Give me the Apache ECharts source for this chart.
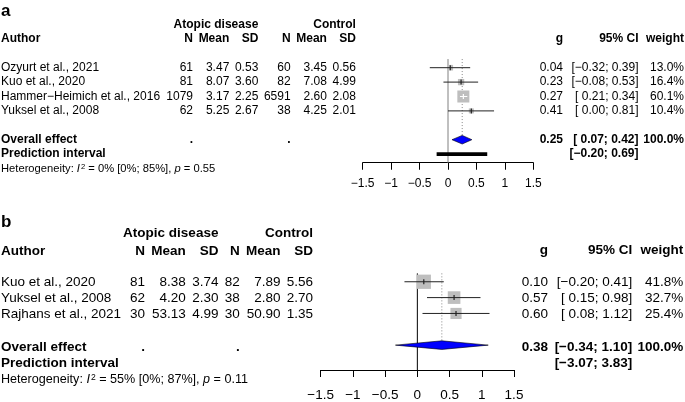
<!DOCTYPE html>
<html><head><meta charset="utf-8">
<script src="https://cdn.jsdelivr.net/npm/echarts@6/dist/echarts.min.js"></script>
<style>html,body{margin:0;padding:0;background:#fff}#c{width:685px;height:402px}</style>
</head><body><div id="c"></div>
<script>
// ---------- Panel a data ----------
const studiesA = ["Ozyurt et al., 2021", "Kuo et al., 2020", "Hammer\u2212Heimich et al., 2016", "Yuksel et al., 2008"];
const nAtopA = [61, 81, 1079, 62];
const meanAtopA = ["3.47", "8.07", "3.17", "5.25"];
const sdAtopA = ["0.53", "3.60", "2.25", "2.67"];
const nCtrlA = [60, 82, 6591, 38];
const meanCtrlA = ["3.45", "7.08", "2.60", "4.25"];
const sdCtrlA = ["0.56", "4.99", "2.08", "2.01"];
const gA = [0.04, 0.23, 0.27, 0.41];
const loA = [-0.32, -0.08, 0.21, 0.00];
const hiA = [0.39, 0.53, 0.34, 0.81];
const wA = [13.0, 16.4, 60.1, 10.4];
const overallA = [0.25, 0.07, 0.42];
const predA = [-0.20, 0.69];
const hetA = ["0%", "[0%; 85%]", "0.55"];

// ---------- Panel b data ----------
const studiesB = ["Kuo et al., 2020", "Yuksel et al., 2008", "Rajhans et al., 2021"];
const nAtopB = [81, 62, 30];
const meanAtopB = ["8.38", "4.20", "53.13"];
const sdAtopB = ["3.74", "2.30", "4.99"];
const nCtrlB = [82, 38, 30];
const meanCtrlB = ["7.89", "2.80", "50.90"];
const sdCtrlB = ["5.56", "2.70", "1.35"];
const gB = [0.10, 0.57, 0.60];
const loB = [-0.20, 0.15, 0.08];
const hiB = [0.41, 0.98, 1.12];
const wB = [41.8, 32.7, 25.4];
const overallB = [0.38, -0.34, 1.10];
const predB = [-3.07, 3.83];
const hetB = ["55%", "[0%; 87%]", "0.11"];

const xTicks = [-1.5, -1, -0.5, 0, 0.5, 1, 1.5];

// ---------- helpers ----------
const F = '"Liberation Sans", Arial, Helvetica, sans-serif';
const M = '\u2212';
function num(v) { return (v < 0 ? M : '') + Math.abs(v).toFixed(2); }
function ci(lo, hi) { return '[' + (lo < 0 ? M + Math.abs(lo).toFixed(2) : ' ' + lo.toFixed(2)) + '; ' + num(hi) + ']'; }
function pct(w) { return w.toFixed(1) + '%'; }
function T(x, y, s, size, bold, align) {
  return { type: 'text', x: x, y: y, silent: true, z: 10,
    style: { text: s, fontSize: size, fontWeight: bold ? 'bold' : 'normal', fontFamily: F, fill: '#000',
      align: align || 'left', verticalAlign: 'middle', textAlign: align || 'left', textVerticalAlign: 'middle' } };
}
function HET(x, y, size, h) {
  const base = { fontSize: size, fontFamily: F, fill: '#000' };
  return { type: 'text', x: x, y: y, silent: true, z: 10,
    style: { text: '{n|Heterogeneity: }{i|I}{s|2}{n| = ' + h[0] + ' ' + h[1] + ', }{i|p}{n| = ' + h[2] + '}',
      fontSize: size, fontFamily: F, fill: '#000', align: 'left', verticalAlign: 'middle',
      rich: { n: base, i: Object.assign({}, base, { fontStyle: 'italic' }),
        s: { fontSize: size * 0.68, fontFamily: F, fill: '#000', verticalAlign: 'top', padding: [0, 0, 0, 1] } } } };
}

// ---------- layout ----------
const L = {
  a: { rowY0: 67.7, rowH: 14.4, yMin: -0.6, yMax: 6.6, left: 362.7, width: 170.6, font: 12, het: 11.2,
       label: { t: 'a', x: 1, y: 11 }, grpY: 25, hdrY: 39, rhdrY: 39,
       cols: [193, 229.3, 258.3, 290.6, 326.9, 355.9], grp: [258.3, 355.9],
       rcols: [563, 638.5, 684], dots: [191.3, 288.9], overallRow: 5, predRow: 6, hetRow: 7,
       zeroColor: '#808080', labelMargin: 15 },
  b: { rowY0: 282, rowH: 16.3, yMin: -0.53, yMax: 5.57, left: 320.7, width: 193.3, font: 13.5, het: 12.6,
       label: { t: 'b', x: 1, y: 222 }, grpY: 233.3, hdrY: 251, rhdrY: 250,
       cols: [145, 185.8, 218.4, 239.7, 280.5, 313.1], grp: [218.4, 313.1],
       rcols: [548, 632.3, 683.3], dots: [143.1, 237.8], overallRow: 4, predRow: 5, hetRow: 6,
       zeroColor: '#000', labelMargin: 18 }
};

const panels = {
  a: { st: studiesA, n1: nAtopA, m1: meanAtopA, s1: sdAtopA, n2: nCtrlA, m2: meanCtrlA, s2: sdCtrlA,
       g: gA, lo: loA, hi: hiA, w: wA, ov: overallA, pr: predA, het: hetA },
  b: { st: studiesB, n1: nAtopB, m1: meanAtopB, s1: sdAtopB, n2: nCtrlB, m2: meanCtrlB, s2: sdCtrlB,
       g: gB, lo: loB, hi: hiB, w: wB, ov: overallB, pr: predB, het: hetB }
};

const graphics = [];
const grids = [], xAxes = [], yAxes = [], series = [];

['a', 'b'].forEach(function (key, gi) {
  const l = L[key], p = panels[key];
  const fs = l.font;
  const rowY = function (r) { return l.rowY0 + r * l.rowH; };
  // text table
  graphics.push(T(l.label.x, l.label.y, l.label.t, 17, true, 'left'));
  graphics.push(T(l.grp[0], l.grpY, 'Atopic disease', fs, true, 'right'));
  graphics.push(T(l.grp[1], l.grpY, 'Control', fs, true, 'right'));
  graphics.push(T(1, l.hdrY, 'Author', fs, true, 'left'));
  ['N', 'Mean', 'SD', 'N', 'Mean', 'SD'].forEach(function (h, i) { graphics.push(T(l.cols[i], l.hdrY, h, fs, true, 'right')); });
  ['g', '95% CI', 'weight'].forEach(function (h, i) { graphics.push(T(l.rcols[i], l.rhdrY, h, fs, true, 'right')); });
  p.st.forEach(function (name, i) {
    const y = rowY(i);
    graphics.push(T(1, y, name, fs, false, 'left'));
    [String(p.n1[i]), p.m1[i], p.s1[i], String(p.n2[i]), p.m2[i], p.s2[i]].forEach(function (v, j) {
      graphics.push(T(l.cols[j], y, v, fs, false, 'right'));
    });
    graphics.push(T(l.rcols[0], y, p.g[i].toFixed(2), fs, false, 'right'));
    graphics.push(T(l.rcols[1], y, ci(p.lo[i], p.hi[i]), fs, false, 'right'));
    graphics.push(T(l.rcols[2], y, pct(p.w[i]), fs, false, 'right'));
  });
  const yo = rowY(l.overallRow), yp = rowY(l.predRow);
  graphics.push(T(1, yo, 'Overall effect', fs, true, 'left'));
  graphics.push(T(l.dots[0], yo, '.', fs, true, 'center'));
  graphics.push(T(l.dots[1], yo, '.', fs, true, 'center'));
  graphics.push(T(l.rcols[0], yo, p.ov[0].toFixed(2), fs, true, 'right'));
  graphics.push(T(l.rcols[1], yo, ci(p.ov[1], p.ov[2]), fs, true, 'right'));
  graphics.push(T(l.rcols[2], yo, '100.0%', fs, true, 'right'));
  graphics.push(T(1, yp, 'Prediction interval', fs, true, 'left'));
  graphics.push(T(l.rcols[1], yp, ci(p.pr[0], p.pr[1]), fs, true, 'right'));
  graphics.push(HET(1, rowY(l.hetRow), l.het, p.het));

  // grid & axes
  grids.push({ left: l.left, width: l.width, top: l.rowY0 + l.yMin * l.rowH, height: (l.yMax - l.yMin) * l.rowH });
  xAxes.push({ type: 'value', gridIndex: gi, min: xTicks[0], max: xTicks[xTicks.length - 1], interval: 0.5,
    axisLine: { show: true, onZero: false, lineStyle: { color: '#000', width: 1 } },
    axisTick: { show: true, inside: false, length: 7, lineStyle: { color: '#000', width: 1 } },
    splitLine: { show: false },
    axisLabel: { color: '#000', fontSize: fs, fontFamily: F, margin: l.labelMargin,
      formatter: function (v) { return String(v).replace('-', M); } } });
  yAxes.push({ type: 'value', gridIndex: gi, min: l.yMin, max: l.yMax, inverse: true, show: false });

  const k = key === 'a' ? 1.55 : 2.21;
  // reference lines
  series.push({ type: 'custom', xAxisIndex: gi, yAxisIndex: gi, z: 1, silent: true,
    data: [[0, l.yMin, l.yMax, p.ov[0], l.overallRow]],
    renderItem: function (params, api) {
      const t0 = api.coord([api.value(0), api.value(1)]), b0 = api.coord([api.value(0), api.value(2)]);
      const t1 = api.coord([api.value(3), api.value(1)]), b1 = api.coord([api.value(3), api.value(4)]);
      return { type: 'group', children: [
        { type: 'line', shape: { x1: t0[0], y1: t0[1], x2: b0[0], y2: b0[1] }, style: { stroke: l.zeroColor, lineWidth: 1 } },
        { type: 'line', shape: { x1: t1[0], y1: t1[1], x2: b1[0], y2: b1[1] }, style: { stroke: '#888', lineWidth: 1, lineDash: [1, 2] } }
      ] };
    } });
  // studies
  series.push({ type: 'custom', xAxisIndex: gi, yAxisIndex: gi, z: 3, silent: true,
    data: p.g.map(function (g, i) { return [g, p.lo[i], p.hi[i], p.w[i], i]; }),
    renderItem: function (params, api) {
      const g = api.value(0), lo = api.value(1), hi = api.value(2), w = api.value(3), r = api.value(4);
      const c = api.coord([g, r]), a = api.coord([lo, r]), b = api.coord([hi, r]);
      const s = k * Math.sqrt(w);
      const inside = a[0] >= c[0] - s / 2 && b[0] <= c[0] + s / 2;
      const col = inside ? '#fff' : '#222';
      return { type: 'group', children: [
        { type: 'rect', shape: { x: c[0] - s / 2, y: c[1] - s / 2, width: s, height: s }, style: { fill: '#bebebe' } },
        { type: 'line', shape: { x1: a[0], y1: a[1], x2: b[0], y2: b[1] }, style: { stroke: col, lineWidth: 1 } },
        { type: 'line', shape: { x1: c[0], y1: c[1] - 2.5, x2: c[0], y2: c[1] + 2.5 }, style: { stroke: col, lineWidth: 1.2 } }
      ] };
    } });
  // overall diamond
  series.push({ type: 'custom', xAxisIndex: gi, yAxisIndex: gi, z: 4, silent: true,
    data: [[p.ov[0], p.ov[1], p.ov[2], l.overallRow]],
    renderItem: function (params, api) {
      const r = api.value(3);
      const c = api.coord([api.value(0), r]), a = api.coord([api.value(1), r]), b = api.coord([api.value(2), r]);
      return { type: 'polygon', shape: { points: [[a[0], a[1]], [c[0], c[1] - 4.3], [b[0], b[1]], [c[0], c[1] + 4.3]] },
        style: { fill: '#0000ff', stroke: '#000', lineWidth: 0.6 } };
    } });
  // prediction interval bar (only when inside the axis range)
  const inRange = p.pr[0] >= xTicks[0] && p.pr[1] <= xTicks[xTicks.length - 1];
  series.push({ type: 'custom', xAxisIndex: gi, yAxisIndex: gi, z: 4, silent: true,
    data: inRange ? [[p.pr[0], p.pr[1], l.predRow]] : [],
    renderItem: function (params, api) {
      const a = api.coord([api.value(0), api.value(2)]), b = api.coord([api.value(1), api.value(2)]);
      return { type: 'rect', shape: { x: a[0], y: a[1] - 1.8, width: b[0] - a[0], height: 3.6 }, style: { fill: '#000' } };
    } });
});

const chart = echarts.init(document.getElementById('c'), null, { renderer: 'canvas' });
chart.setOption({
  animation: false,
  backgroundColor: '#fff',
  grid: grids, xAxis: xAxes, yAxis: yAxes, series: series,
  graphic: graphics
});
</script></body></html>
